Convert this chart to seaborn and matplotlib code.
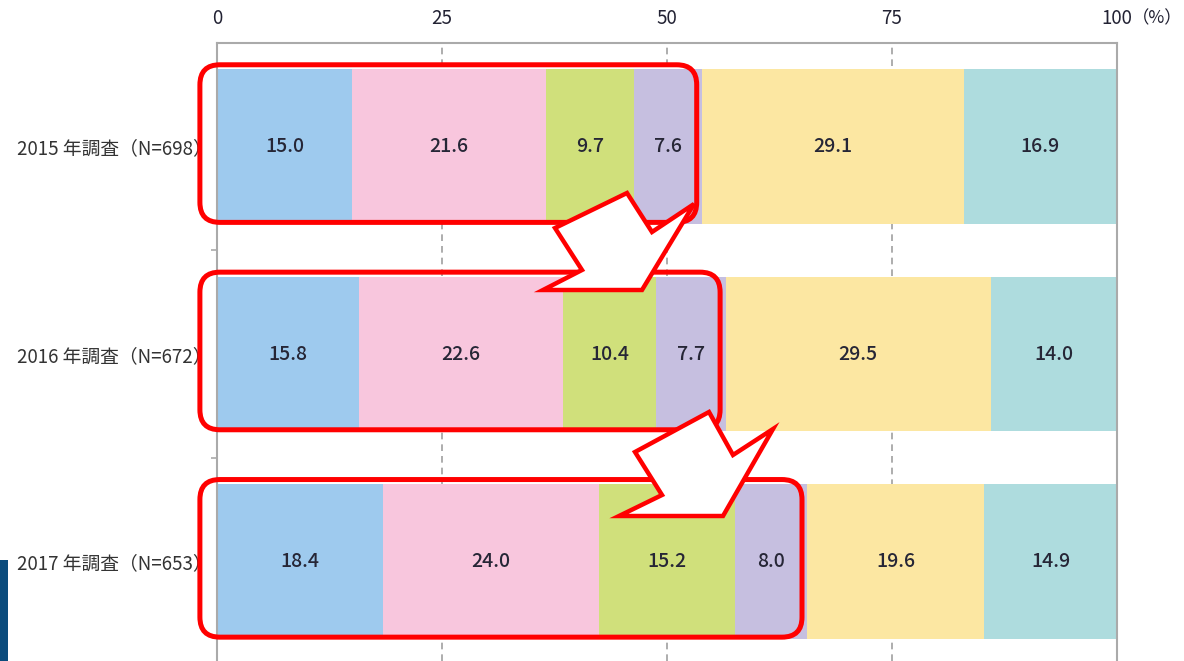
import matplotlib
matplotlib.use("Agg")
import matplotlib.pyplot as plt
from matplotlib.patches import FancyBboxPatch, Polygon, Rectangle
import seaborn as sns
import pandas as pd

# --- data ---
years = ["2015 年調査（N=698）", "2016 年調査（N=672）", "2017 年調査（N=653）"]
seg1 = [15.0, 15.8, 18.4]
seg2 = [21.6, 22.6, 24.0]
seg3 = [9.7, 10.4, 15.2]
seg4 = [7.6, 7.7, 8.0]
seg5 = [29.1, 29.5, 19.6]
seg6 = [16.9, 14.0, 14.9]
xticks = [0, 25, 50, 75, 100]
xticklabels = ["0", "25", "50", "75", "100"]
unit_label = "（%）"

colors = ["#9ECAEE", "#F8C6DD", "#D0E07B", "#C6BFE0", "#FCE7A2", "#AEDCDE"]
W, H, DPI = 1184, 661, 100

segments = [seg1, seg2, seg3, seg4, seg5, seg6]
df = pd.DataFrame({f"s{i}": s for i, s in enumerate(segments)}, index=years)
cum = df.cumsum(axis=1)

sns.set_theme(style="white")
plt.rcParams["font.family"] = ["Noto Sans CJK JP", "DejaVu Sans"]

fig = plt.figure(figsize=(W / DPI, H / DPI), dpi=DPI)
ax = fig.add_axes([217 / W, 0, 900 / W, (H - 43) / H])

# stacked bars: draw cumulative totals from the outermost layer inwards
for k in reversed(range(len(segments))):
    sns.barplot(x=cum[f"s{k}"].values, y=years, color=colors[k], orient="h",
                width=0.745, saturation=1, linewidth=0, ax=ax, zorder=2)

for i, year in enumerate(years):
    for k in range(len(segments)):
        v = df.loc[year, f"s{k}"]
        xc = cum.loc[year, f"s{k}"] - v / 2
        ax.text(xc, i, f"{v:.1f}", ha="center", va="center",
                fontsize=14, fontweight="medium", color="#262636", zorder=3)

ax.set_xlim(0, 100)
ax.set_ylim(2.48, -0.5)
ax.xaxis.tick_top()
ax.set_xticks(xticks)
ax.set_xticklabels(xticklabels)
ax.tick_params(axis="x", length=0, pad=10, labelsize=13.5, colors="#222233")
ax.tick_params(axis="y", which="major", length=0, pad=4, labelsize=13.5, colors="#333333")
ax.set_yticks([0.5, 1.5], minor=True)
ax.tick_params(axis="y", which="minor", length=4, width=1.2, color="#AAAAAA", direction="out", left=True)
ax.set_xlabel("")
ax.set_ylabel("")
ax.grid(axis="x", color="#A0A0A0", linestyle=(0, (4, 3)), linewidth=1.2, zorder=0)
ax.set_axisbelow(True)
for side in ["left", "top", "right"]:
    ax.spines[side].set_color("#AAAAAA")
    ax.spines[side].set_linewidth(1.5)
ax.spines["bottom"].set_visible(False)

# unit label sits just right of the "100" tick label
ax.annotate(unit_label, xy=(100, 1), xycoords=ax.get_xaxis_transform(),
            xytext=(11, 18), textcoords="offset points", ha="left", va="center",
            fontsize=12.5, color="#222233")

# --- overlay in image pixel coordinates for the red call-outs ---
ov = fig.add_axes([0, 0, 1, 1], zorder=5)
ov.set_xlim(0, W)
ov.set_ylim(H, 0)
ov.axis("off")
ov.patch.set_alpha(0)


def to_px(x, y):
    dx, dy = ax.transData.transform((x, y))
    return dx, H - dy


cum4 = cum["s3"].values
for i in range(len(years)):
    x0, y0 = to_px(-1.9, i - 0.395)
    x1, y1 = to_px(cum4[i] - 0.6, i + 0.365)
    ov.add_patch(FancyBboxPatch((x0, y0), x1 - x0, y1 - y0,
                                boxstyle="round,pad=0,rounding_size=20",
                                facecolor="none", edgecolor="#FF0000", linewidth=3.6))

arrow1 = [(555, 228), (627, 193), (652, 232), (694, 204), (642, 290), (543, 290), (582, 270)]
arrow2 = [(635, 452), (709, 412), (733, 455), (773, 429), (723, 516), (619, 516), (662, 495)]
for pts in (arrow1, arrow2):
    ov.add_patch(Polygon(pts, closed=True, facecolor="white", edgecolor="#FF0000",
                         linewidth=3.2, joinstyle="miter"))

ov.add_patch(Rectangle((0, 560), 8, H - 560, facecolor="#0B4B7C", edgecolor="none"))

fig.savefig("out.png", dpi=DPI)
